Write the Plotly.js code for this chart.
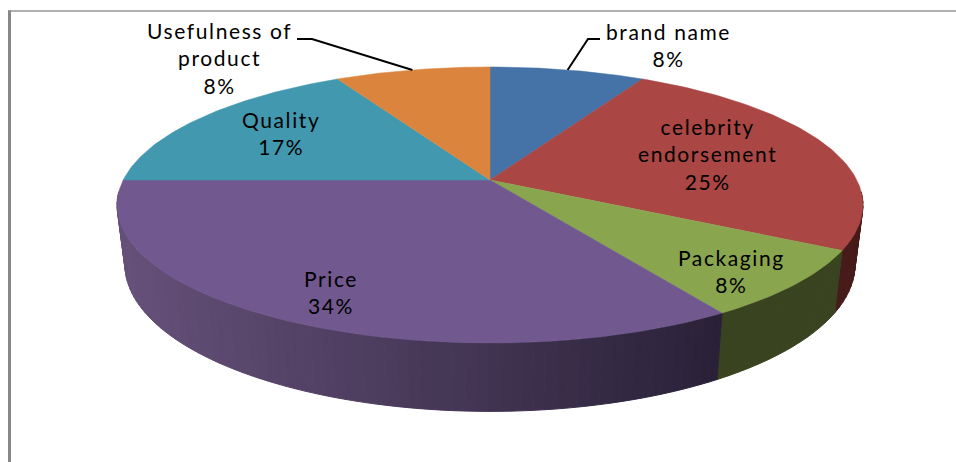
<!DOCTYPE html>
<html>
<head>
<meta charset="utf-8">
<script src="https://cdn.plot.ly/plotly-3.0.1.min.js"></script>
<style>html,body{margin:0;padding:0;background:#fff;overflow:hidden}#c{width:956px;height:462px}
.annotation-text{letter-spacing:1.6px}</style>
</head>
<body>
<div id="c"></div>
<script>
const categories = ['brand name','celebrity<br>endorsement','Packaging','Price','Quality','Usefulness of<br>product'];
const shares = [8,25,8,34,17,8];
const topColors = ['#4572a7','#aa4643','#89a54e','#71588f','#4198af','#db843d'];
const wallColors = ['#28405f','#461b19','#39431f',null,'#245a69','#854d20'];

// projection of the tilted disc
const cx=490, cy=180, a=366.8, b=133.5, k=0.181;
const baseA=359, baseB=142, baseY=238;
const rim=(deg)=>{const t=deg*Math.PI/180,s=Math.sin(t),c=Math.cos(t),d=1+k*c;return [cx+a*s/d,cy-b*c/d];};
const foot=(deg)=>{const t=deg*Math.PI/180,s=Math.sin(t),c=Math.cos(t),d=1+k*c;return [cx+baseA*s/d,baseY-baseB*c/d];};
const hex=(h)=>[1,3,5].map(i=>parseInt(h.substr(i,2),16));

const total=shares.reduce((p,q)=>p+q,0);
let run=0;
const ranges=shares.map(v=>{const s=run/total*360;run+=v;return [s,run/total*360];});

const traces=[];
const priceL=hex('#655079'), priceR=hex('#2a2138');
// side wall, back to front
const wallFrom=95, wallTo=265;
ranges.forEach(([s,e],i)=>{
  const lo=Math.max(s,wallFrom), hi=Math.min(e,wallTo);
  if(hi<=lo) return;
  const n=wallColors[i]?Math.max(2,Math.ceil((hi-lo)/2)):Math.ceil((hi-lo)/1.5);
  for(let j=0;j<n;j++){
    const d0=lo+(hi-lo)*j/n, d1=lo+(hi-lo)*(j+1)/n;
    const pts=[rim(d0),rim(d1),foot(d1),foot(d0),rim(d0)];
    let col=wallColors[i];
    if(!col){
      const px=foot((d0+d1)/2)[0];
      const f=Math.min(1,Math.max(0,(px-130)/(717-130)));
      col='rgb('+priceL.map((c,m)=>Math.round(c+(priceR[m]-c)*f)).join(',')+')';
    }
    traces.push({type:'scatter',mode:'lines',x:pts.map(p=>p[0]),y:pts.map(p=>p[1]),fill:'toself',fillcolor:col,line:{color:col,width:1},hoverinfo:'skip',showlegend:false});
  }
});
// top surface
ranges.forEach(([s,e],i)=>{
  const pts=[[cx,cy]];
  const n=Math.ceil(e-s);
  for(let j=0;j<=n;j++) pts.push(rim(s+(e-s)*j/n));
  pts.push([cx,cy]);
  traces.push({type:'scatter',mode:'lines',x:pts.map(p=>p[0]),y:pts.map(p=>p[1]),fill:'toself',fillcolor:topColors[i],line:{color:topColors[i],width:0.5},name:categories[i].replace('<br>',' '),hoverinfo:'name',showlegend:false});
});
// leader lines
const mid=(i)=>(ranges[i][0]+ranges[i][1])/2;
const leaders=[[0,[[600,39],[588,39]]],[5,[[297,39],[312,39]]]];
leaders.forEach(([i,el])=>{
  const pts=el.concat([rim(mid(i))]);
  traces.push({type:'scatter',mode:'lines',x:pts.map(p=>p[0]),y:pts.map(p=>p[1]),line:{color:'#000',width:2},hoverinfo:'skip',showlegend:false});
});

const labelAt=[[668,45],[707,154],[731,271],[331,292],[281,133],[219,58]];
const annotations=categories.map((c,i)=>({
  x:labelAt[i][0],y:labelAt[i][1],xref:'x',yref:'y',xanchor:'center',yanchor:'middle',showarrow:false,
  text:c+'<br>'+shares[i]+'%',align:'center',font:{family:'Lato, sans-serif',size:21,color:'#000'}
}));

const layout={
  width:956,height:462,margin:{l:0,r:0,t:0,b:0},paper_bgcolor:'#fff',plot_bgcolor:'#fff',showlegend:false,
  xaxis:{range:[0,956],visible:false,fixedrange:true},
  yaxis:{range:[462,0],visible:false,fixedrange:true},
  annotations,
  shapes:[
    {type:'line',xref:'x',yref:'y',x0:8,x1:956,y0:11,y1:11,line:{color:'#969696',width:1.5},layer:'below'},
    {type:'line',xref:'x',yref:'y',x0:9.5,x1:9.5,y0:10.5,y1:462,line:{color:'#888888',width:3},layer:'below'}
  ]
};
Plotly.newPlot('c',traces,layout,{displayModeBar:false,staticPlot:true});
</script>
</body>
</html>
